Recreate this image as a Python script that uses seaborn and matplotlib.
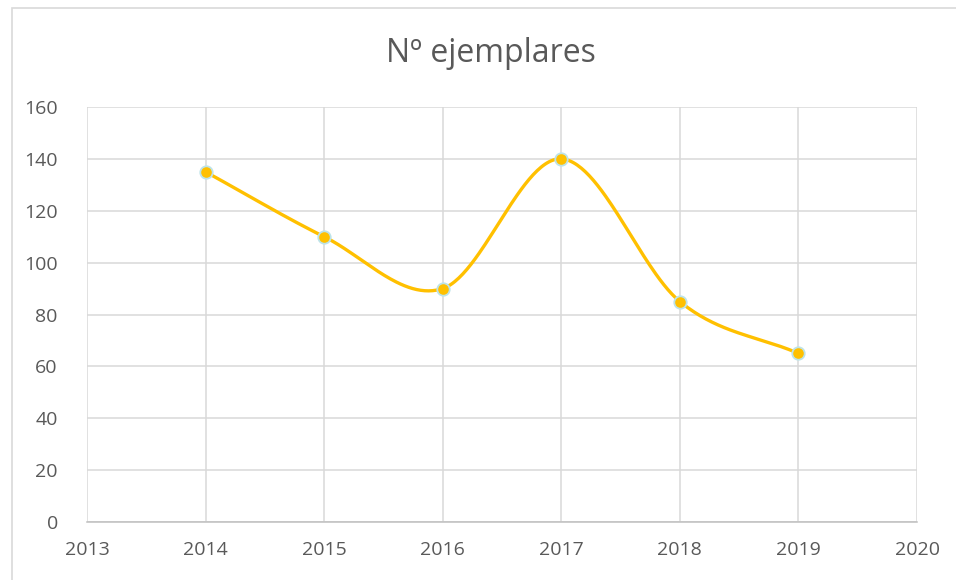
import numpy as np
import pandas as pd
import seaborn as sns
import matplotlib.pyplot as plt
from matplotlib.patches import Rectangle

years = [2014, 2015, 2016, 2017, 2018, 2019]
ejemplares = [135, 110, 90, 140, 85, 65]
x_ticks = list(range(2013, 2021))
y_ticks = list(range(0, 161, 20))
title = 'Nº ejemplares'


def catmull_rom(x, y, n=60):
    # smoothed line like Excel's "smoothed line" option
    x = np.asarray(x, float)
    y = np.asarray(y, float)
    px = np.concatenate([[2 * x[0] - x[1]], x, [2 * x[-1] - x[-2]]])
    py = np.concatenate([[2 * y[0] - y[1]], y, [2 * y[-1] - y[-2]]])
    xs, ys = [], []
    t = np.linspace(0, 1, n)
    for i in range(1, len(px) - 2):
        p0, p1, p2, p3 = px[i - 1], px[i], px[i + 1], px[i + 2]
        q0, q1, q2, q3 = py[i - 1], py[i], py[i + 1], py[i + 2]
        # bezier control points
        bx = [p1, p1 + (p2 - p0) / 6, p2 - (p3 - p1) / 6, p2]
        by = [q1, q1 + (q2 - q0) / 6, q2 - (q3 - q1) / 6, q2]
        b = [(1 - t) ** 3, 3 * (1 - t) ** 2 * t, 3 * (1 - t) * t ** 2, t ** 3]
        xs.append(sum(c * w for c, w in zip(bx, b)))
        ys.append(sum(c * w for c, w in zip(by, b)))
    return np.concatenate(xs), np.concatenate(ys)


sns.set_theme(style='white')
plt.rcParams['font.family'] = ['Open Sans', 'DejaVu Sans']

df = pd.DataFrame({'year': years, 'n': ejemplares})
sx, sy = catmull_rom(df['year'], df['n'])
smooth = pd.DataFrame({'year': sx, 'n': sy})

fig = plt.figure(figsize=(9.56, 5.8), dpi=100)
ax = fig.add_axes([87 / 956, 1 - 522 / 580, (917 - 87) / 956, (522 - 107) / 580])

sns.lineplot(data=smooth, x='year', y='n', color='#FFC000', linewidth=2.4,
             sort=False, ax=ax, zorder=3)
sns.scatterplot(data=df, x='year', y='n', color='#FFC000', s=80,
                edgecolor='#BDE3E8', linewidth=1.3, ax=ax, zorder=4)

ax.set_xlim(2013, 2020)
ax.set_ylim(0, 160)
ax.set_xticks(x_ticks)
ax.set_yticks(y_ticks)
ax.grid(True, color='#D9D9D9', linewidth=1.1)
ax.set_axisbelow(True)
for side in ['left', 'right', 'top']:
    ax.spines[side].set_visible(False)
ax.spines['bottom'].set_color('#BFBFBF')
ax.spines['bottom'].set_linewidth(1.1)
ax.tick_params(axis='both', length=0, labelsize=14, labelcolor='#595959')
ax.tick_params(axis='x', pad=14)
ax.tick_params(axis='y', pad=21)
ax.set_xlabel('')
ax.set_ylabel('')

fig.text(491 / 956, 1 - 53 / 580, title, ha='center', va='center',
         fontsize=23, color='#595959')

# chart area border
fig.patches.append(Rectangle((12 / 956, -0.05), 1.1, 1 - 8 / 580 + 0.05,
                             transform=fig.transFigure, fill=False,
                             edgecolor='#D9D9D9', linewidth=1.2))

fig.savefig('out.png', dpi=100)
